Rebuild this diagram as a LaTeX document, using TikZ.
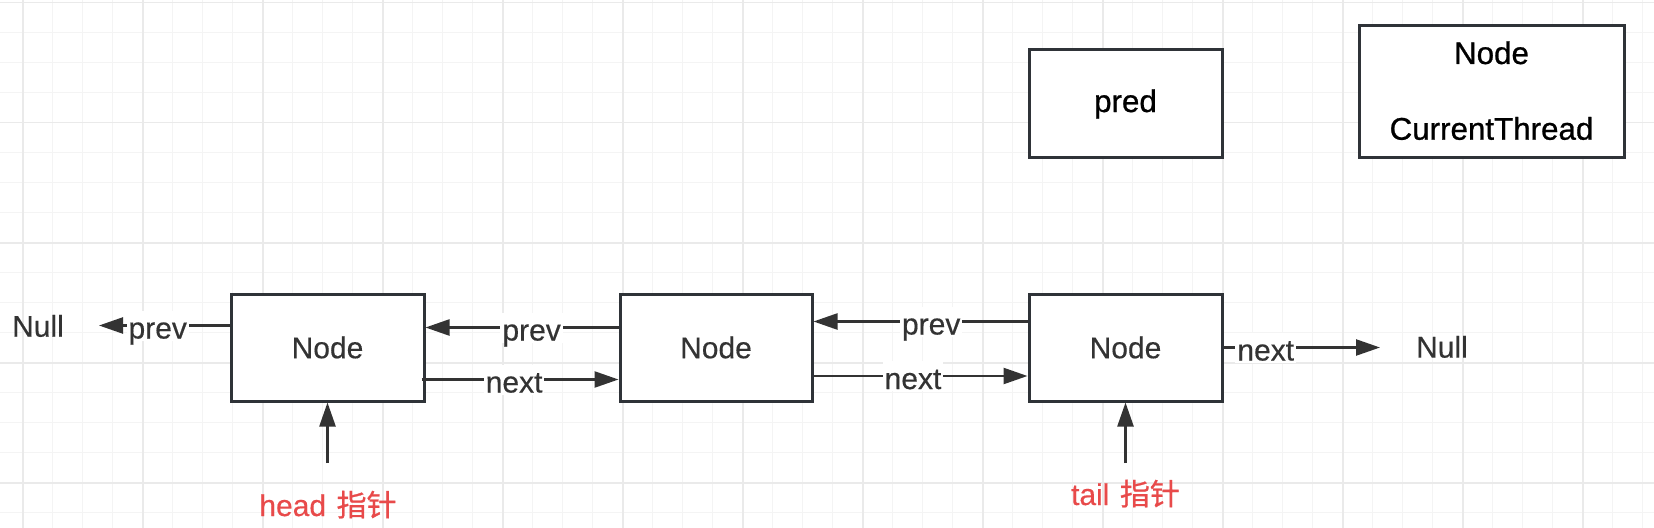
\documentclass[tikz,border=0pt]{standalone}
\usepackage{fontspec}
\setmainfont{Liberation Sans}[FakeBold=0.4]
\newfontfamily\blkfont{Liberation Sans}[FakeBold=0.8]
\newfontfamily\cjk{Noto Sans CJK SC}[FakeBold=0.8]
\usetikzlibrary{arrows.meta,calc}
\definecolor{gridminor}{HTML}{F4F4F4}
\definecolor{gridmajor}{HTML}{EAEAEA}
\definecolor{boxc}{HTML}{2F3338}
\definecolor{arrc}{HTML}{333333}
\definecolor{textc}{HTML}{333333}
\definecolor{redc}{HTML}{E84A4A}
\tikzset{
  gmin/.style={draw=gridminor, line width=0.9pt},
  gmaj/.style={draw=gridmajor, line width=1.2pt},
  boxnode/.style={draw=boxc, line width=2.25pt, fill=white, inner sep=0pt,
    minimum width=144.75pt, minimum height=80.25pt,
    font=\fontsize{22.5pt}{27pt}\selectfont, text=textc},
  txt/.style={inner sep=0pt, font=\fontsize{22.5pt}{27pt}\selectfont, text=textc},
  blk/.style={inner sep=0pt, font=\blkfont\fontsize{23.5pt}{28pt}\selectfont, text=black},
  redtxt/.style={inner sep=0pt, font=\fontsize{22.5pt}{27pt}\selectfont, text=redc},
  lbl/.style={fill=white, inner xsep=1.5pt, inner ysep=0pt, text height=21pt, text depth=1.5pt,
    font=\fontsize{22.5pt}{27pt}\selectfont, text=textc},
  arr/.style={draw=arrc, line width=1.8pt, -{Triangle[length=18pt,width=12pt]}}
}
\begin{document}
\begin{tikzpicture}[x=0.75pt,y=-0.75pt]
\useasboundingbox (0,0) rectangle (1654,528);
\fill[white] (0,0) rectangle (1654,528);
% grid
\foreach \i in {0,...,54} \draw[gmin] ({22.7+30*\i},0) -- ({22.7+30*\i},528);
\foreach \j in {0,...,17} \draw[gmin] (0,{2.7+30*\j}) -- (1654,{2.7+30*\j});
\foreach \i in {0,...,13} \draw[gmaj] ({22.7+120*\i},0) -- ({22.7+120*\i},528);
\foreach \j in {0,...,4} \draw[gmaj] (0,{2.7+120*\j}) -- (1654,{2.7+120*\j});
% list nodes
\node[boxnode] (n1) at (327.5,347.5) {Node};
\node[boxnode, minimum width=144pt] (n2) at (716,347.5) {Node};
\node[boxnode] (n3) at (1125.5,347.5) {Node};
% top boxes
\node[boxnode, minimum height=81pt, text=black, font=\blkfont\fontsize{23.5pt}{28pt}\selectfont] (pred) at (1125.5,103.9) {pred};
\node[boxnode, minimum width=198.75pt, minimum height=99.5pt] (ct) at (1491.5,91.6) {};
\node[blk, anchor=base] (ctn) at (1491.5,64) {Node};
\node[blk, anchor=base] (ctt) at (1491.5,139.7) {CurrentThread};
% free texts
\node[txt, anchor=base] (nullL) at (38,336.7) {Null};
\node[txt, anchor=base] (nullR) at (1442,357.6) {Null};
\node[redtxt, anchor=base] (head) at (328,516) {head\hspace{0.35em}{\cjk 指针}};
\node[redtxt, anchor=base] (tail) at (1125.5,505) {tail\hspace{0.35em}{\cjk 指针}};
% free ends
\coordinate (nl) at (99,325.5);
\coordinate (nr) at (1380,347.5);
\coordinate (hb) at (327.5,463);
\coordinate (tb) at (1125.5,463);
% connectors
\draw[arr] (n1.west |- nl) -- node[lbl, pos=0.55] {prev} (nl);
\draw[arr] ($(n2.west)+(0,-20)$) -- node[lbl, pos=0.45] {prev} ($(n1.east)+(0,-20)$);
\draw[arr] ($(n1.east)+(-4,32)$) -- node[lbl, pos=0.47] {next} ($(n2.west)+(0,32)$);
\draw[arr] ($(n3.west)+(0,-26)$) -- node[lbl, pos=0.45] {prev} ($(n2.east)+(0,-26)$);
\draw[arr] ($(n2.east)+(0,28.5)$) -- node[lbl, pos=0.465] {next} ($(n3.west)+(0,28.5)$);
\draw[arr] (n3.east) -- node[lbl, pos=0.27] {next} (nr);
\draw[arr] (hb) -- (n1.south);
\draw[arr] (tb) -- (n3.south);
\end{tikzpicture}
\end{document}
